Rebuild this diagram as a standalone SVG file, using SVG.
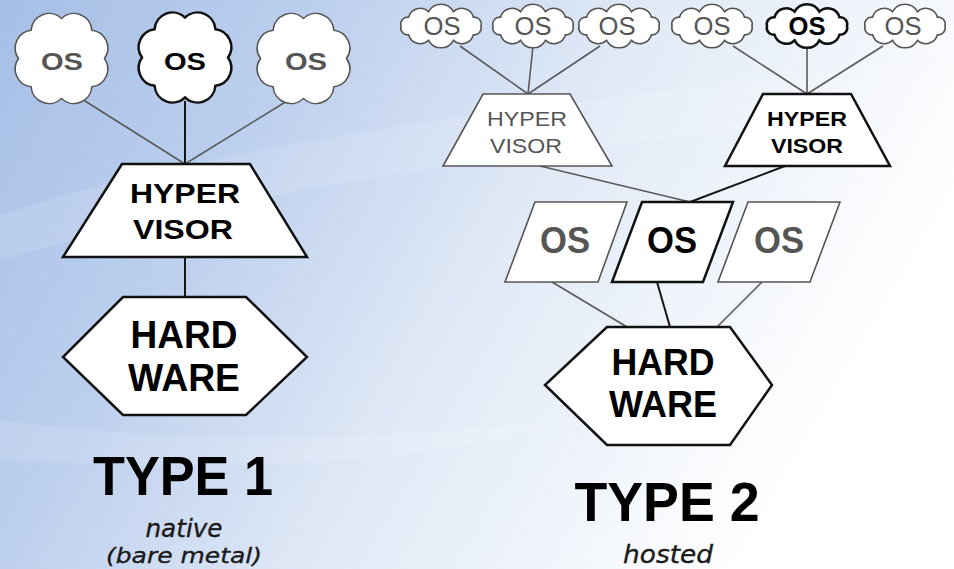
<svg xmlns="http://www.w3.org/2000/svg" xmlns:xlink="http://www.w3.org/1999/xlink" width="954" height="569" viewBox="0 0 954 569">
<defs>
<linearGradient id="bg" x1="0" y1="0" x2="1" y2="0.35">
<stop offset="0" stop-color="#a6bfe6"/>
<stop offset="0.3" stop-color="#bccfee"/>
<stop offset="0.6" stop-color="#e0e9f6"/>
<stop offset="1" stop-color="#ffffff"/>
</linearGradient>
<path id="cloudA" d="M0,-40 A18 18 0 0 1 30.4,-28.3 A18 18 0 0 1 43,0 A18 18 0 0 1 30.4,28.3 A18 18 0 0 1 0,40 A18 18 0 0 1 -30.4,28.3 A18 18 0 0 1 -43,0 A18 18 0 0 1 -30.4,-28.3 A18 18 0 0 1 0,-40 Z"/>
<path id="cloudB" d="M-12.4,-14.3 A14 14 0 0 1 12.4,-14.3 A12 12 0 0 1 32.4,-8.8 A7 7 0 0 1 40,0 A7 7 0 0 1 32.4,8.8 A12 12 0 0 1 12.4,14.3 A14 14 0 0 1 -12.4,14.3 A12 12 0 0 1 -32.4,8.8 A7 7 0 0 1 -40,0 A7 7 0 0 1 -32.4,-8.8 A12 12 0 0 1 -12.4,-14.3 Z"/>
</defs>
<style>
text{font-family:"Liberation Sans",Arial,sans-serif;text-anchor:middle}
.g{fill:#fff;stroke:#555;stroke-width:1.6}
.b{fill:#fff;stroke:#111;stroke-width:2.5}
.gl{stroke:#5a5a5a;stroke-width:1.6;fill:none}
.bl{stroke:#151515;stroke-width:2;fill:none}
.tg{fill:#555}
.tb{fill:#000}
.bold{font-weight:bold}
.it{font-family:"DejaVu Sans",Verdana,sans-serif;font-style:italic;fill:#1a1a1a;stroke:#1a1a1a;stroke-width:0.35}
</style>
<rect width="954" height="569" fill="url(#bg)"/>
<path d="M0,215 C200,150 450,110 954,60 L954,110 C500,150 250,190 0,260 Z" fill="#ffffff" opacity="0.12"/>
<path d="M0,420 C150,440 350,445 560,420 C420,470 200,470 0,460 Z" fill="#ffffff" opacity="0.12"/>

<g id="connectors">
<line class="gl" x1="85" y1="101" x2="185" y2="164"/>
<line class="bl" x1="185" y1="101" x2="185" y2="164"/>
<line class="gl" x1="287" y1="101" x2="185" y2="164"/>
<line class="bl" x1="185" y1="257" x2="185" y2="297"/>
<line class="gl" x1="460" y1="46" x2="528" y2="94"/>
<line class="gl" x1="533" y1="46" x2="528" y2="94"/>
<line class="gl" x1="600" y1="46" x2="528" y2="94"/>
<line class="gl" x1="733" y1="46" x2="807" y2="94"/>
<line class="gl" x1="807" y1="46" x2="807" y2="94"/>
<line class="gl" x1="883" y1="46" x2="807" y2="94"/>
<line class="gl" x1="540" y1="166" x2="690" y2="202"/>
<line class="bl" x1="785" y1="166" x2="690" y2="202"/>
<line class="gl" x1="552" y1="282" x2="627" y2="327"/>
<line class="bl" x1="657" y1="282" x2="670" y2="327"/>
<line class="gl" x1="762" y1="282" x2="717" y2="327"/>
</g>

<g id="t1-os1"><use xlink:href="#cloudA" x="61.5" y="58.5" class="g"/><text x="62" y="70" font-size="24" class="bold tg" textLength="42" lengthAdjust="spacingAndGlyphs">OS</text></g>
<g id="t1-os2"><use xlink:href="#cloudA" x="185" y="57.5" class="b"/><text x="185" y="70" font-size="24" class="bold tb" textLength="42" lengthAdjust="spacingAndGlyphs">OS</text></g>
<g id="t1-os3"><use xlink:href="#cloudA" x="303.5" y="58.5" class="g"/><text x="306" y="70" font-size="24" class="bold tg" textLength="42" lengthAdjust="spacingAndGlyphs">OS</text></g>

<g id="t1-hypervisor"><polygon class="b" points="122,164 250,164 307,257 63,257"/>
<text x="185" y="203" font-size="28" class="bold tb" textLength="110" lengthAdjust="spacingAndGlyphs">HYPER</text>
<text x="183" y="239" font-size="28" class="bold tb" textLength="100" lengthAdjust="spacingAndGlyphs">VISOR</text></g>

<g id="t1-hardware"><polygon class="b" points="123,297 246,297 307,357 246,415 123,415 63,357"/>
<text x="184" y="348" font-size="39" class="bold tb" textLength="107" lengthAdjust="spacingAndGlyphs">HARD</text>
<text x="184" y="391" font-size="39" class="bold tb" textLength="112" lengthAdjust="spacingAndGlyphs">WARE</text></g>

<g id="t1-label"><text x="183" y="495" font-size="55" class="bold tb" textLength="180" lengthAdjust="spacingAndGlyphs">TYPE 1</text>
<text x="184" y="537" font-size="24" class="it" textLength="77" lengthAdjust="spacingAndGlyphs">native</text>
<text x="184" y="563" font-size="22" class="it" textLength="156" lengthAdjust="spacingAndGlyphs">(bare metal)</text></g>

<g id="t2-os1"><use xlink:href="#cloudB" x="441" y="26" class="g"/><text x="442" y="35" font-size="25" class="tg" textLength="37" lengthAdjust="spacingAndGlyphs">OS</text></g>
<g id="t2-os2"><use xlink:href="#cloudB" x="533" y="26" class="g"/><text x="533" y="35" font-size="25" class="tg" textLength="37" lengthAdjust="spacingAndGlyphs">OS</text></g>
<g id="t2-os3"><use xlink:href="#cloudB" x="619" y="26" class="g"/><text x="617" y="35" font-size="25" class="tg" textLength="37" lengthAdjust="spacingAndGlyphs">OS</text></g>
<g id="t2-os4"><use xlink:href="#cloudB" x="712" y="26" class="g"/><text x="712" y="35" font-size="25" class="tg" textLength="37" lengthAdjust="spacingAndGlyphs">OS</text></g>
<g id="t2-os5"><use xlink:href="#cloudB" x="807" y="26" class="b"/><text x="807" y="35" font-size="25" class="bold tb" textLength="37" lengthAdjust="spacingAndGlyphs">OS</text></g>
<g id="t2-os6"><use xlink:href="#cloudB" x="905" y="26" class="g"/><text x="903" y="35" font-size="25" class="tg" textLength="37" lengthAdjust="spacingAndGlyphs">OS</text></g>

<g id="t2-hypervisor1"><polygon class="g" points="483,94 570,94 612,166 443,166"/>
<text x="527" y="126" font-size="20" class="tg" textLength="80" lengthAdjust="spacingAndGlyphs">HYPER</text>
<text x="526" y="153" font-size="20" class="tg" textLength="72" lengthAdjust="spacingAndGlyphs">VISOR</text></g>
<g id="t2-hypervisor2"><polygon class="b" points="763,94 851,94 890,166 725,166"/>
<text x="807" y="126" font-size="20" class="bold tb" textLength="80" lengthAdjust="spacingAndGlyphs">HYPER</text>
<text x="807" y="153" font-size="20" class="bold tb" textLength="72" lengthAdjust="spacingAndGlyphs">VISOR</text></g>

<g id="t2-guest1"><polygon class="g" points="535,202 627,202 598,282 505,282"/>
<text x="565" y="253" font-size="36" class="bold tg" textLength="50" lengthAdjust="spacingAndGlyphs">OS</text></g>
<g id="t2-guest2"><polygon class="b" points="642,202 733,202 703,282 612,282"/>
<text x="672" y="253" font-size="36" class="bold tb" textLength="50" lengthAdjust="spacingAndGlyphs">OS</text></g>
<g id="t2-guest3"><polygon class="g" points="748,202 840,202 810,282 718,282"/>
<text x="779" y="253" font-size="36" class="bold tg" textLength="50" lengthAdjust="spacingAndGlyphs">OS</text></g>

<g id="t2-hardware"><polygon class="b" points="607,327 730,327 772,385 730,445 607,445 545,385"/>
<text x="663" y="375" font-size="37" class="bold tb" textLength="103" lengthAdjust="spacingAndGlyphs">HARD</text>
<text x="663" y="417" font-size="37" class="bold tb" textLength="108" lengthAdjust="spacingAndGlyphs">WARE</text></g>

<g id="t2-label"><text x="667" y="521" font-size="55" class="bold tb" textLength="185" lengthAdjust="spacingAndGlyphs">TYPE 2</text>
<text x="668" y="563" font-size="25" class="it" textLength="90" lengthAdjust="spacingAndGlyphs">hosted</text></g>
</svg>
